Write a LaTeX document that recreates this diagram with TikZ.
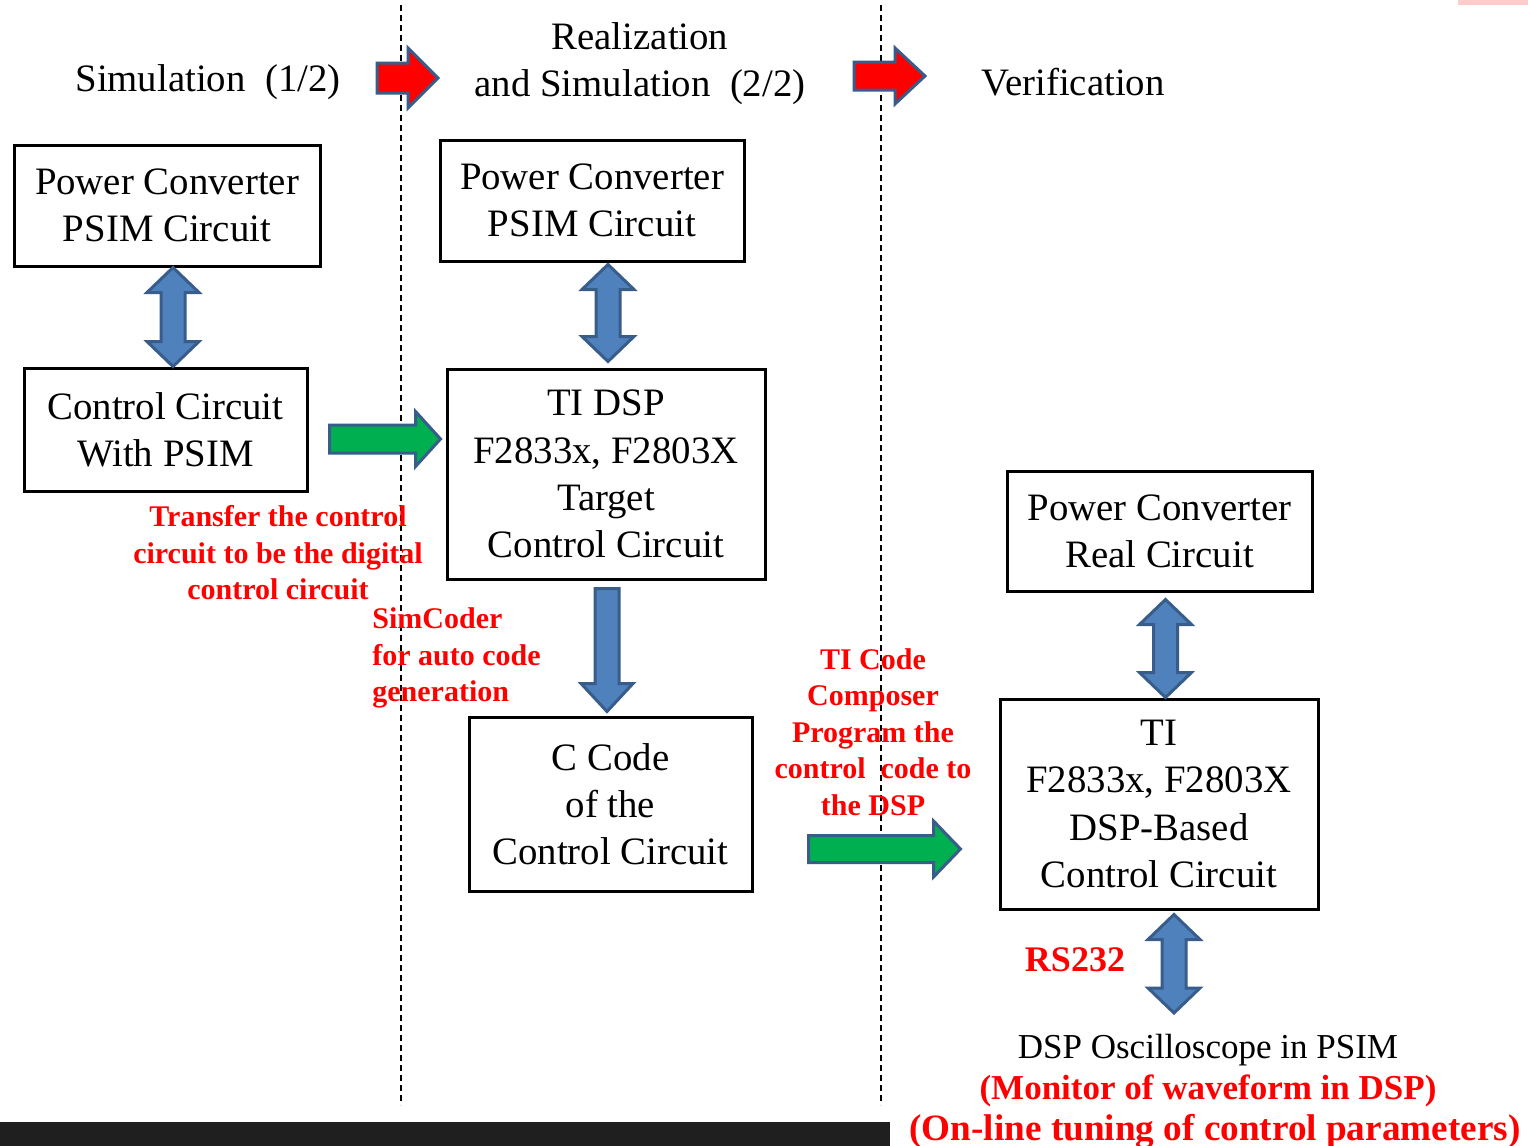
\documentclass[tikz,border=0pt]{standalone}
\usepackage{fontspec}
\setmainfont{Liberation Serif}
\usepackage{tikz}
\usetikzlibrary{positioning,calc}
\definecolor{arrowblue}{HTML}{4F81BD}
\definecolor{arrowedge}{HTML}{385D8A}
\definecolor{arrowgreen}{HTML}{00B050}
\tikzstyle{block}=[draw,line width=1.5pt,align=center,inner sep=0pt,font=\fontsize{19.4}{23.6}\selectfont]
\tikzstyle{phase}=[align=center,inner sep=0pt,font=\fontsize{19.4}{23.6}\selectfont]
\tikzstyle{note}=[text=red,align=center,inner sep=0pt,font=\fontsize{15}{18.3}\selectfont\bfseries]
\tikzstyle{bluearrow}=[fill=arrowblue,draw=arrowedge,line width=1.5pt]
\tikzstyle{greenarrow}=[fill=arrowgreen,draw=arrowedge,line width=1.5pt]
\tikzstyle{redarrow}=[fill=red,draw=arrowedge,line width=1.5pt]
\tikzstyle{divider}=[dash pattern=on 3pt off 2pt,line width=0.6pt]
% vertical double arrow from #1 (top) to #2 (bottom)
\newcommand{\vboth}[2]{\draw[bluearrow] let \p1=#1, \p2=#2 in
  (\x1,\y1) -- (\x1+13pt,\y1-12.5pt) -- (\x1+6pt,\y1-12.5pt) -- (\x1+6pt,\y2+12.5pt)
  -- (\x1+13pt,\y2+12.5pt) -- (\x1,\y2) -- (\x1-13pt,\y2+12.5pt) -- (\x1-6pt,\y2+12.5pt)
  -- (\x1-6pt,\y1-12.5pt) -- (\x1-13pt,\y1-12.5pt) -- cycle;}
% vertical single arrow pointing down
\newcommand{\vdown}[2]{\draw[bluearrow] let \p1=#1, \p2=#2 in
  (\x1-6pt,\y1) -- (\x1+6pt,\y1) -- (\x1+6pt,\y2+14pt) -- (\x1+13pt,\y2+14pt)
  -- (\x1,\y2) -- (\x1-13pt,\y2+14pt) -- (\x1-6pt,\y2+14pt) -- cycle;}
% horizontal arrow pointing right: style, from, to, shaft half, head half, head length
\newcommand{\rarrow}[6]{\draw[#1] let \p1=#2, \p2=#3 in
  (\x1,\y1+#4) -- (\x2-#6,\y1+#4) -- (\x2-#6,\y1+#5) -- (\x2,\y1)
  -- (\x2-#6,\y1-#5) -- (\x2-#6,\y1-#4) -- (\x1,\y1-#4) -- cycle;}

\begin{document}
\begin{tikzpicture}[x=0.5pt,y=-0.5pt]
\clip (0,0) rectangle (1528,1146);
\fill[white] (0,0) rectangle (1528,1146);
\fill[red!20] (1458,0) rectangle (1528,5);

% phases
\draw[divider] (401,5) -- (401,1105);
\draw[divider] (881,5) -- (881,1105);
\node[phase] (sim) at (208,82) {Simulation\ \ (1/2)};
\node[phase] (real) at (640,64) {Realization\\and Simulation\ \ (2/2)};
\node[phase] (verif) at (1073,82) {Verification};
\coordinate (r1s) at (377,78);
\coordinate (r1e) at (438,78);
\coordinate (r2s) at (854,76);
\coordinate (r2e) at (925,76);
\rarrow{redarrow}{(r1s)}{(r1e)}{7.5pt}{15pt}{15pt}
\rarrow{redarrow}{(r2s)}{(r2e)}{7pt}{14pt}{15pt}

% simulation
\node[block,minimum width=153pt,minimum height=60.5pt] (pcL) at (167,205.5) {Power Converter\\PSIM Circuit};
\node[block,minimum width=141.5pt,minimum height=61.5pt] (ccL) at (165.5,429.5) {Control Circuit\\With PSIM};
\vboth{([xshift=3pt]pcL.south)}{([xshift=3.5pt]ccL.north)}

% realization
\node[block,minimum width=152pt,minimum height=60.5pt] (pcM) at (592,200.5) {Power Converter\\PSIM Circuit};
\node[block,minimum width=159pt,minimum height=105pt] (ti) at (606,474) {TI DSP\\F2833x, F2803X\\Target\\Control Circuit};
\node[block,minimum width=141.5pt,minimum height=87pt] (ccode) at (610.5,804) {C Code\\of the\\Control Circuit};
\vboth{([xshift=8pt,yshift=-1pt]pcM.south)}{([yshift=3pt]ti.north)}
\vdown{([xshift=0.5pt,yshift=-4pt]ti.south)}{([yshift=2pt]ccode.north)}
\rarrow{greenarrow}{([xshift=10.5pt,yshift=-4.75pt]ccL.east)}{([xshift=-2.5pt]ti.west)}{7pt}{13.75pt}{12.5pt}

% verification
\node[block,minimum width=152.5pt,minimum height=60pt] (pcR) at (1159.5,531) {Power Converter\\Real Circuit};
\node[block,minimum width=159pt,minimum height=105pt] (tiR) at (1159,804) {TI\\F2833x, F2803X\\DSP-Based\\Control Circuit};
\vboth{([xshift=3pt,yshift=-3.5pt]pcR.south)}{([xshift=3pt]tiR.north)}
\rarrow{greenarrow}{([xshift=27.5pt,yshift=-22.5pt]ccode.east)}{([xshift=-19pt]tiR.west)}{6.75pt}{14pt}{13.5pt}
\coordinate (oscTop) at (1174,1013);
\vboth{([xshift=7.5pt,yshift=-2pt]tiR.south)}{(oscTop)}

% notes
\node[note] (transfer) at (278,553) {Transfer the control\\circuit to be the digital\\control circuit};
\node[note,align=left,anchor=west] (simcoder) at (372,658) {SimCoder\\for auto code\\generation};
\node[note] (ccs) at (873,732) {TI Code\\Composer\\Program the\\control\ \ code to\\the DSP};
\node[note,font=\fontsize{18}{20}\selectfont\bfseries] (rs) at (1075,960) {RS232};
\node[phase,font=\fontsize{17.5}{20}\selectfont] (osc) at (1208,1050) {DSP Oscilloscope in PSIM};
\node[note,font=\fontsize{17.5}{20}\selectfont\bfseries] (monitor) at (1208,1091) {(Monitor of waveform in DSP)};
\node[note,font=\fontsize{18.6}{20}\selectfont\bfseries] (tuning) at (1215,1131) {(On-line tuning of control parameters)};

\fill[black!88] (0,1122) rectangle (890,1146);
\end{tikzpicture}
\end{document}
